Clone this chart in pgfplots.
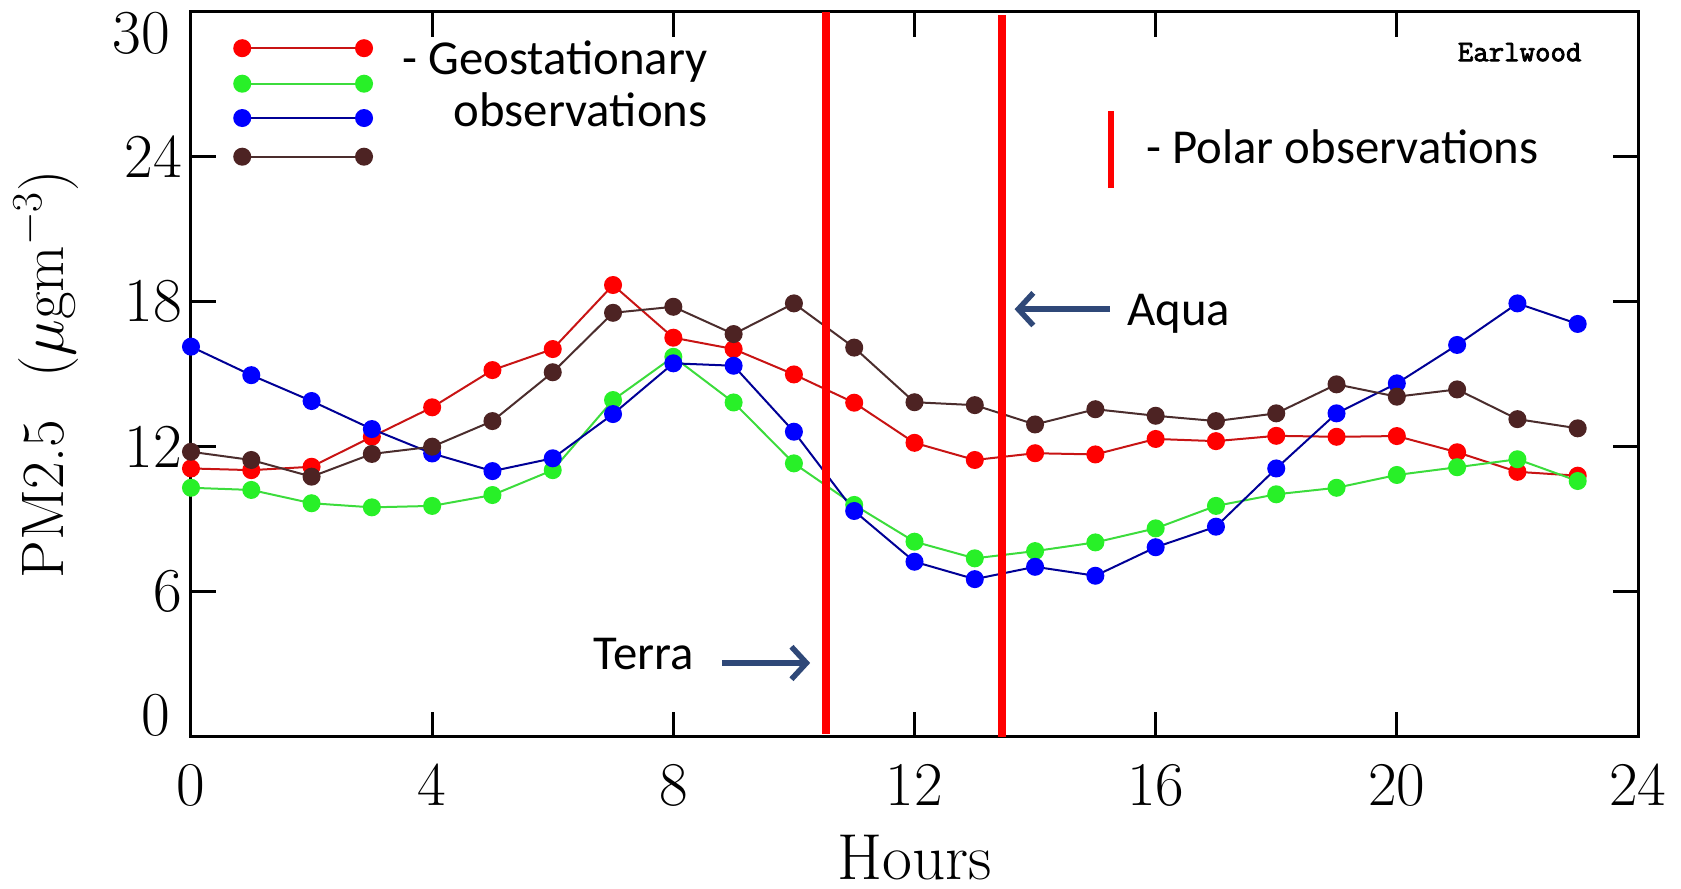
\documentclass[border=0pt]{standalone}
\usepackage{fontspec}
\usepackage{pgfplots}
\pgfplotsset{compat=1.18}
\usetikzlibrary{arrows.meta}
\newfontfamily\calibri{Carlito}
\newfontfamily\ewfont[FakeBold=2.5]{Latin Modern Mono}
\definecolor{rmark}{RGB}{255,0,0}
\definecolor{rline}{RGB}{200,20,20}
\definecolor{gmark}{RGB}{40,240,40}
\definecolor{gline}{RGB}{60,220,60}
\definecolor{bmark}{RGB}{0,0,255}
\definecolor{bline}{RGB}{0,0,150}
\definecolor{brmark}{RGB}{77,35,35}
\definecolor{brline}{RGB}{75,45,45}
\definecolor{arrowc}{RGB}{47,72,120}
\begin{document}
\begin{tikzpicture}
\begin{axis}[
  at={(0pt,0pt)}, anchor=south west,
  scale only axis, width=578.8pt, height=290pt,
  xmin=0, xmax=24, ymin=0, ymax=30,
  xtick={0,4,...,24}, ytick={0,6,...,30},
  yticklabels={,6,12,18,24,},
  tick align=inside, major tick length=10pt,
  axis line style={line width=1.2pt},
  every tick/.style={line width=1.1pt, black},
  tick label style={font=\fontsize{25}{28}\selectfont},
  xticklabel style={yshift=-8pt},
  ylabel={PM2.5\hspace{0.7em}($\mu$gm$^{-3}$)},
  ylabel style={font=\fontsize{24}{28}\selectfont, at={(axis description cs:-0.100,0.5)}, anchor=center},
  clip=false,
  every axis plot/.append style={line width=0.8pt, mark=*, mark size=3.2pt},
]
% legend samples
\addplot[rline, mark options={fill=rmark, draw=rmark}] coordinates {(0.85,28.49) (2.87,28.49)};
\addplot[gline, mark options={fill=gmark, draw=gmark}] coordinates {(0.85,27.02) (2.87,27.02)};
\addplot[bline, mark options={fill=bmark, draw=bmark}] coordinates {(0.85,25.6) (2.87,25.6)};
\addplot[brline, mark options={fill=brmark, draw=brmark}] coordinates {(0.85,24.0) (2.87,24.0)};
% data
\addplot[rline, mark options={fill=rmark, draw=rmark}] coordinates {
(0,11.10) (1,11.03) (2,11.17) (3,12.41) (4,13.63) (5,15.17) (6,16.04) (7,18.69)
(8,16.51) (9,16.04) (10,14.99) (11,13.82) (12,12.16) (13,11.45) (14,11.73) (15,11.68)
(16,12.32) (17,12.23) (18,12.45) (19,12.41) (20,12.44) (21,11.77) (22,10.96) (23,10.80)};
\addplot[gline, mark options={fill=gmark, draw=gmark}] coordinates {
(0,10.30) (1,10.21) (2,9.66) (3,9.49) (4,9.55) (5,10.0) (6,11.03) (7,13.93)
(8,15.72) (9,13.83) (10,11.31) (11,9.59) (12,8.07) (13,7.38) (14,7.68) (15,8.04)
(16,8.62) (17,9.55) (18,10.03) (19,10.30) (20,10.83) (21,11.15) (22,11.48) (23,10.58)};
\addplot[bline, mark options={fill=bmark, draw=bmark}] coordinates {
(0,16.14) (1,14.96) (2,13.89) (3,12.73) (4,11.72) (5,10.99) (6,11.52) (7,13.35)
(8,15.45) (9,15.35) (10,12.62) (11,9.34) (12,7.24) (13,6.52) (14,7.03) (15,6.66)
(16,7.84) (17,8.69) (18,11.10) (19,13.38) (20,14.62) (21,16.21) (22,17.93) (23,17.08)};
\addplot[brline, mark options={fill=brmark, draw=brmark}] coordinates {
(0,11.79) (1,11.45) (2,10.76) (3,11.70) (4,12.0) (5,13.06) (6,15.08) (7,17.54)
(8,17.79) (9,16.66) (10,17.93) (11,16.10) (12,13.84) (13,13.72) (14,12.92) (15,13.55)
(16,13.28) (17,13.06) (18,13.38) (19,14.58) (20,14.07) (21,14.37) (22,13.14) (23,12.76)};
% polar overpass lines
\addplot[red, line width=3pt, mark=none] coordinates {(10.53,0.13) (10.53,30)};
\addplot[red, line width=3pt, mark=none] coordinates {(13.45,0) (13.45,29.86)};
\addplot[red, line width=2.6pt, mark=none] coordinates {(15.26,22.7) (15.26,25.9)};
% arrows
\draw[arrowc, line width=2.2pt, -{Straight Barb[length=6pt,width=13pt]}] (axis cs:15.24,17.69) -- (axis cs:13.66,17.69);
\draw[arrowc, line width=2.2pt, -{Straight Barb[length=6pt,width=13pt]}] (axis cs:8.81,3.05) -- (axis cs:10.27,3.05);
% texts
\node[anchor=north east, inner xsep=8.3pt, inner ysep=0pt, font=\fontsize{25}{28}\selectfont] at (rel axis cs:0,1) {30};
\node[anchor=south east, inner xsep=8.3pt, inner ysep=0pt, font=\fontsize{25}{28}\selectfont] at (rel axis cs:0,0) {0};
\node[anchor=base west, inner sep=0pt, font=\calibri\fontsize{19.5}{22}\selectfont] at (axis cs:3.50,27.42) {- Geostationary};
\node[anchor=base west, inner sep=0pt, font=\calibri\fontsize{19.5}{22}\selectfont] at (axis cs:4.35,25.25) {observations};
\node[anchor=base west, inner sep=0pt, font=\calibri\fontsize{19.5}{22}\selectfont] at (axis cs:15.84,23.73) {- Polar observations};
\node[anchor=base west, inner sep=0pt, font=\calibri\fontsize{19.5}{22}\selectfont] at (axis cs:15.52,17.03) {Aqua};
\node[anchor=base west, inner sep=0pt, font=\calibri\fontsize{19.5}{22}\selectfont] at (axis cs:6.67,2.76) {Terra};
\node[anchor=base east, inner sep=0pt, font=\ewfont\fontsize{12}{14}\selectfont] at (axis cs:23.07,27.95) {Earlwood};
\node[anchor=base, inner sep=0pt, font=\fontsize{26}{30}\selectfont] at (rel axis cs:0.5,0) [yshift=-57.3pt] {Hours};
\end{axis}
\path (-76.4pt,-60.92pt) rectangle (596pt,294.68pt);
\end{tikzpicture}
\end{document}
